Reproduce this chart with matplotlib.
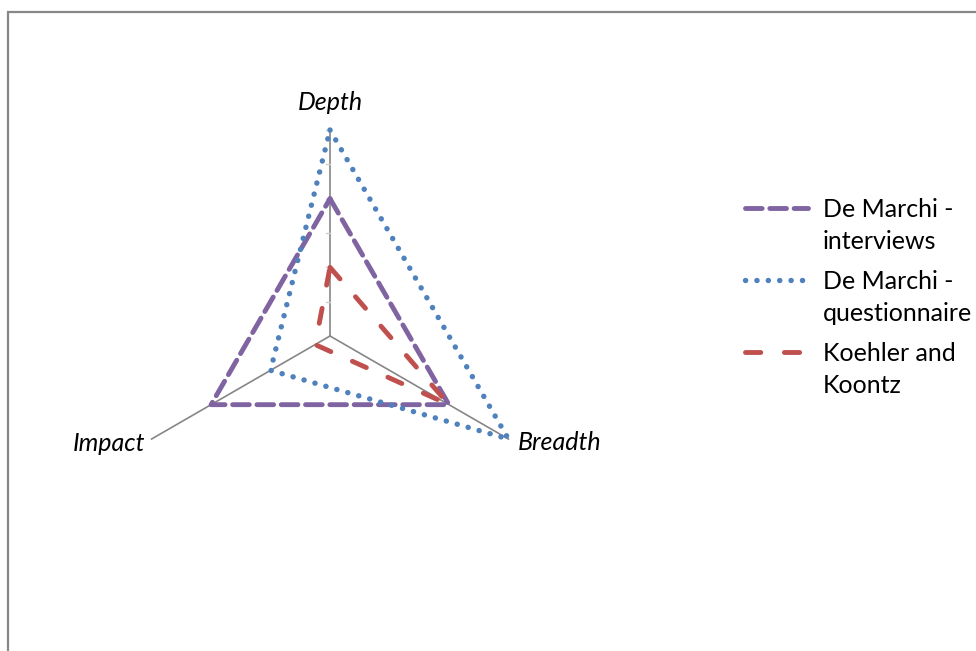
import numpy as np
import matplotlib.pyplot as plt
from matplotlib.lines import Line2D
from matplotlib.patches import Rectangle

plt.rcParams['font.family'] = ['Lato', 'DejaVu Sans']
plt.rcParams['lines.scale_dashes'] = False

# 雷达图数据：三个维度，三组评价
categories = ['Depth', 'Breadth', 'Impact']
interviews = [2, 2, 2]
questionnaire = [3, 3, 1]
koehler = [1, 2, 0.25]
series_labels = ['De Marchi -\ninterviews', 'De Marchi -\nquestionnaire', 'Koehler and\nKoontz']
r_max = 3
r_step = 0.5

# 各轴角度：Depth 向上，Breadth 右下，Impact 左下
angles = np.deg2rad([90, -30, 210])


def to_xy(vals):
    r = np.asarray(vals, dtype=float)
    x = r * np.cos(angles)
    y = r * np.sin(angles)
    # 首尾相接形成闭合多边形
    return np.append(x, x[0]), np.append(y, y[0])


W, H = 976, 651
cx, cy = 330, 336          # 中心点像素位置
scale = 206 / r_max        # 每单位对应像素

fig = plt.figure(figsize=(W / 100, H / 100), dpi=100)
ax = fig.add_axes([0, 0, 1, 1])
ax.set_xlim(-cx / scale, (W - cx) / scale)
ax.set_ylim(-(H - cy) / scale, cy / scale)
ax.set_aspect('equal')
ax.axis('off')

# 外框（右侧和下侧超出画布）
fig.add_artist(Rectangle((8 / W, -0.1), 1.2, (H - 12) / H + 0.1, transform=fig.transFigure,
                         fill=False, edgecolor='#878787', lw=1.6))

# 轴线
for a in angles:
    ax.plot([0, r_max * np.cos(a)], [0, r_max * np.sin(a)], color='#868686', lw=1.2, zorder=1)

# Depth 轴上的刻度
tick_len = 4 / scale
for r in np.arange(r_step, r_max + 1e-9, r_step):
    ax.plot([-tick_len, 0], [r, r], color='#cfcfcf', lw=1, zorder=1)

styles = [
    dict(color='#8064A2', lw=3.5, linestyle=(0, (12, 5.5)), dash_capstyle='round'),
    dict(color='#4F81BD', lw=3.9, linestyle=(0, (0.1, 8.1)), dash_capstyle='round'),
    dict(color='#C0504D', lw=3.5, linestyle=(0, (11, 17)), dash_capstyle='round'),
]

for vals, st in zip([interviews, questionnaire, koehler], styles):
    x, y = to_xy(vals)
    ax.plot(x, y, solid_joinstyle='round', zorder=2, **st)

# 轴标签
pad = 9 / scale
fs = 18
ax.text(0, r_max + 27 / scale, categories[0], ha='center', va='center', fontsize=fs, style='italic')
bx, by = r_max * np.cos(angles[1]), r_max * np.sin(angles[1])
ax.text(bx + pad, by - 4 / scale, categories[1], ha='left', va='center', fontsize=fs, style='italic')
ix, iy = r_max * np.cos(angles[2]), r_max * np.sin(angles[2])
ax.text(ix - 6 / scale, iy - 4 / scale, categories[2], ha='right', va='center', fontsize=fs, style='italic')

# 图例
for i, (lab, st) in enumerate(zip(series_labels, styles)):
    row = 208 + 72 * i
    fig.add_artist(Line2D([745 / W, 808 / W], [1 - row / H, 1 - row / H],
                          transform=fig.transFigure, **st))
    fig.text(823 / W, 1 - (row - 10) / H, lab, ha='left', va='top', fontsize=fs, linespacing=1.45)

fig.savefig('out.png', dpi=100)
